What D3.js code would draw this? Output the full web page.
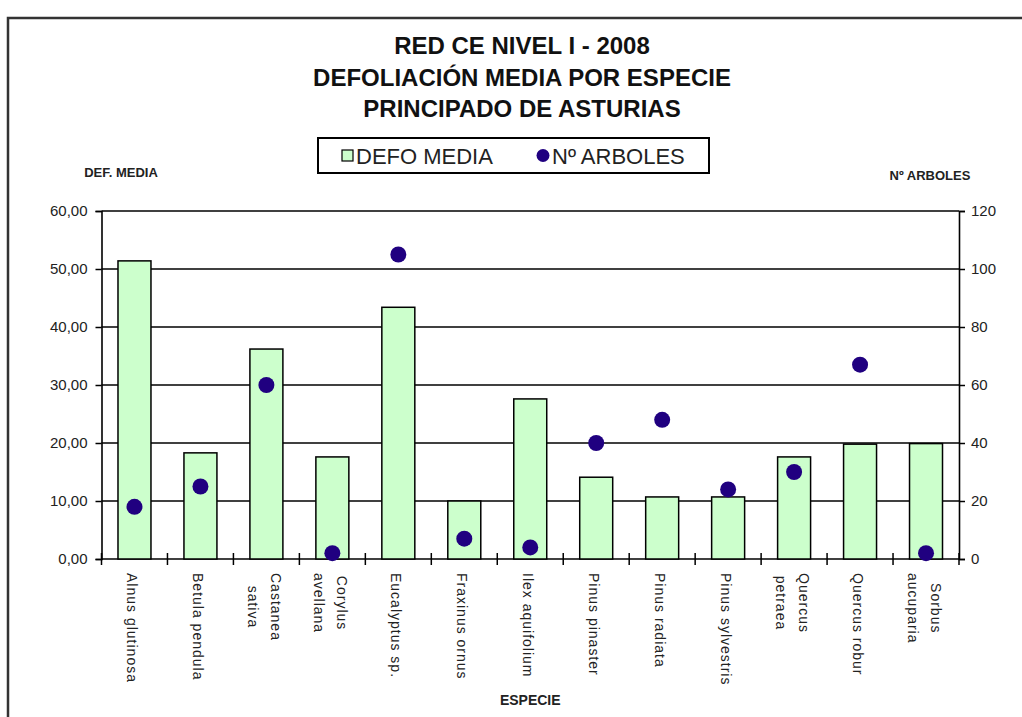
<!DOCTYPE html>
<html>
<head>
<meta charset="utf-8">
<script src="https://cdn.jsdelivr.net/npm/d3@7"></script>
<style>
  html, body { margin: 0; padding: 0; background: #fff; }
  svg { display: block; font-family: "Liberation Sans", Arial, sans-serif; }
</style>
</head>
<body>
<svg id="chart" width="1022" height="717"></svg>
<script>
const titleLines = ["RED CE NIVEL I - 2008", "DEFOLIACIÓN MEDIA POR ESPECIE", "PRINCIPADO DE ASTURIAS"];
const categories = ["Alnus glutinosa", "Betula pendula", "Castanea sativa", "Corylus avellana", "Eucalyptus sp.", "Fraxinus ornus", "Ilex aquifolium", "Pinus pinaster", "Pinus radiata", "Pinus sylvestris", "Quercus petraea", "Quercus robur", "Sorbus aucuparia"];
const categoryLines = [["Alnus glutinosa"], ["Betula pendula"], ["Castanea", "sativa"], ["Corylus", "avellana"], ["Eucalyptus sp."], ["Fraxinus ornus"], ["Ilex aquifolium"], ["Pinus pinaster"], ["Pinus radiata"], ["Pinus sylvestris"], ["Quercus", "petraea"], ["Quercus robur"], ["Sorbus", "aucuparia"]];
const defoMedia = [51.4, 18.3, 36.2, 17.6, 43.4, 10.0, 27.6, 14.1, 10.7, 10.7, 17.6, 19.8, 19.9];
const numArboles = [18, 25, 60, 2, 105, 7, 4, 40, 48, 24, 30, 67, 2];
const leftTicks = [0, 10, 20, 30, 40, 50, 60];
const rightTicks = [0, 20, 40, 60, 80, 100, 120];
const legendItems = ["DEFO MEDIA", "Nº ARBOLES"];
const leftAxisTitle = "DEF. MEDIA";
const rightAxisTitle = "Nº ARBOLES";
const xAxisTitle = "ESPECIE";

const svg = d3.select("#chart");
const plot = { left: 101.5, right: 959, top: 211, bottom: 559 };
const barFill = "#ccffcc";
const dotFill = "#200080";

// outer frame
svg.append("path")
  .attr("d", `M8,740 L8,18 L1030,18`)
  .attr("fill", "none").attr("stroke", "#333").attr("stroke-width", 2.5);

// title
svg.append("g").selectAll("text").data(titleLines).join("text")
  .attr("x", 522).attr("y", (d, i) => 54 + i * 31.5)
  .attr("text-anchor", "middle")
  .attr("font-size", 24).attr("font-weight", "bold").attr("fill", "#111")
  .text(d => d);

// scales
const x = d3.scaleBand().domain(categories).range([plot.left, plot.right]).paddingInner(0.5).paddingOuter(0.25);
const yL = d3.scaleLinear().domain([0, 60]).range([plot.bottom, plot.top]);
const yR = d3.scaleLinear().domain([0, 120]).range([plot.bottom, plot.top]);

// gridlines
svg.append("g").selectAll("line").data(leftTicks).join("line")
  .attr("x1", plot.left).attr("x2", plot.right)
  .attr("y1", d => yL(d)).attr("y2", d => yL(d))
  .attr("stroke", "#000").attr("stroke-width", 1.6);

// bars
svg.append("g").selectAll("rect").data(categories).join("rect")
  .attr("x", d => x(d))
  .attr("y", (d, i) => yL(defoMedia[i]))
  .attr("width", x.bandwidth())
  .attr("height", (d, i) => yL(0) - yL(defoMedia[i]))
  .attr("fill", barFill).attr("stroke", "#000").attr("stroke-width", 1.5);

// left axis
const fmt = v => d3.format(".2f")(v).replace(".", ",");
const gL = svg.append("g").attr("transform", `translate(${plot.left},0)`)
  .call(d3.axisLeft(yL).tickValues(leftTicks).tickSize(6).tickPadding(8).tickFormat(fmt));
// right axis
const gR = svg.append("g").attr("transform", `translate(${plot.right},0)`)
  .call(d3.axisRight(yR).tickValues(rightTicks).tickSize(6).tickPadding(6).tickFormat(d3.format("d")));
[gL, gR].forEach(g => {
  g.select(".domain").attr("stroke", "#000").attr("stroke-width", 1.6);
  g.selectAll(".tick line").attr("stroke", "#000").attr("stroke-width", 1.5);
  g.selectAll(".tick text").attr("font-size", 15).attr("fill", "#222").attr("font-family", "Liberation Sans, Arial, sans-serif");
});

// category boundary ticks on the x axis
const boundaries = d3.range(categories.length + 1);
svg.append("g").selectAll("line").data(boundaries).join("line")
  .attr("x1", i => plot.left + i * x.step()).attr("x2", i => plot.left + i * x.step())
  .attr("y1", plot.bottom - 6).attr("y2", plot.bottom + 6)
  .attr("stroke", "#000").attr("stroke-width", 1.5);

// dots
svg.append("g").selectAll("circle").data(categories).join("circle")
  .attr("cx", d => x(d) + x.bandwidth() / 2)
  .attr("cy", (d, i) => yR(numArboles[i]))
  .attr("r", 8)
  .attr("fill", dotFill);

// x labels (rotated)
const labelTop = 573;
const lineGap = 23;
const xl = svg.append("g");
categories.forEach((c, i) => {
  const lines = categoryLines[i];
  const cx = x(c) + x.bandwidth() / 2 - 2;
  const t = xl.append("text")
    .attr("font-size", 14).attr("letter-spacing", 1).attr("fill", "#222");
  const tsp = t.selectAll("tspan").data(lines).join("tspan").text(d => d);
  const maxLen = d3.max(tsp.nodes(), n => n.getComputedTextLength());
  const n = lines.length;
  const cy = labelTop + maxLen / 2;
  t.attr("transform", `translate(${cx},${cy}) rotate(90)`)
    .attr("text-anchor", "middle")
    .attr("dominant-baseline", "central");
  tsp.attr("x", 0).attr("y", (d, j) => ((n - 1) / 2 - j) * -lineGap * -1 * -1);
});

// axis titles
svg.append("text").attr("x", 121).attr("y", 177).attr("text-anchor", "middle")
  .attr("font-size", 13).attr("font-weight", "bold").attr("fill", "#222").text(leftAxisTitle);
svg.append("text").attr("x", 930).attr("y", 180).attr("text-anchor", "middle")
  .attr("font-size", 13).attr("font-weight", "bold").attr("fill", "#222").text(rightAxisTitle);
svg.append("text").attr("x", (plot.left + plot.right) / 2).attr("y", 705).attr("text-anchor", "middle")
  .attr("font-size", 14).attr("font-weight", "bold").attr("fill", "#222").text(xAxisTitle);

// legend
const lg = svg.append("g");
lg.append("rect").attr("x", 318).attr("y", 138).attr("width", 391).attr("height", 35)
  .attr("fill", "#fff").attr("stroke", "#000").attr("stroke-width", 2);
lg.append("rect").attr("x", 342).attr("y", 150).attr("width", 11).attr("height", 11)
  .attr("fill", barFill).attr("stroke", "#000").attr("stroke-width", 1.2);
lg.append("circle").attr("cx", 543).attr("cy", 155.5).attr("r", 6.5).attr("fill", dotFill);
lg.selectAll("text.leg").data(legendItems).join("text").attr("class", "leg")
  .attr("x", (d, i) => i === 0 ? 356 : 552).attr("y", 163.5)
  .attr("font-size", 22).attr("fill", "#222").text(d => d);
</script>
</body>
</html>
